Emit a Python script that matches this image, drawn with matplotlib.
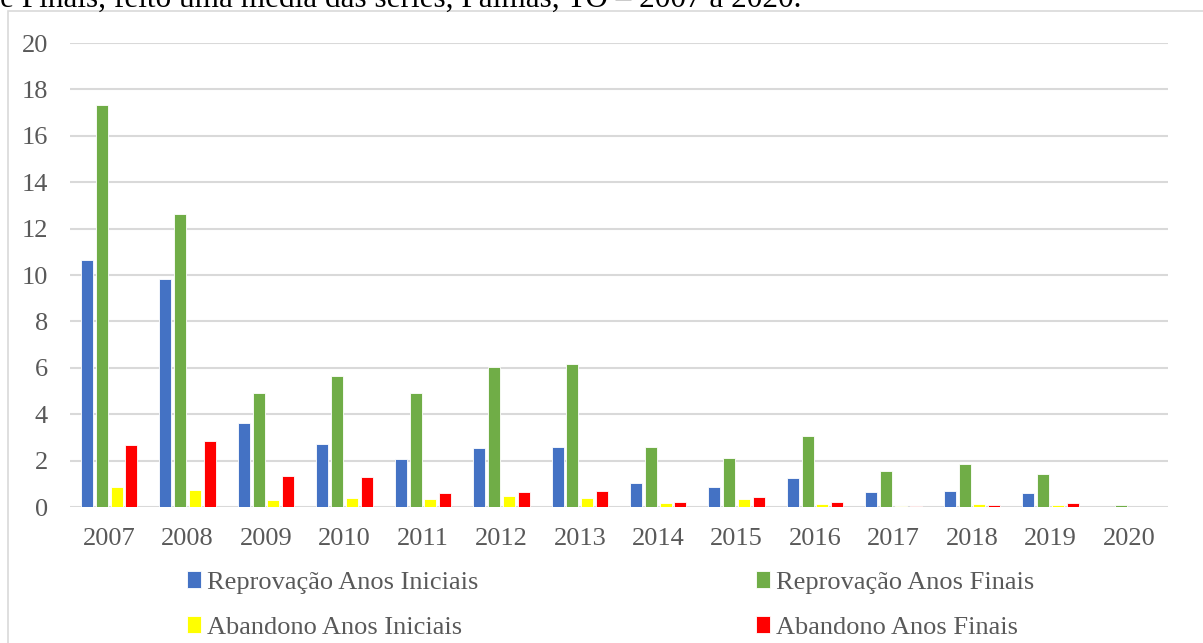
import matplotlib.pyplot as plt
import numpy as np
from matplotlib.patches import Rectangle

# --- data ---
anos = ['2007', '2008', '2009', '2010', '2011', '2012', '2013',
        '2014', '2015', '2016', '2017', '2018', '2019', '2020']
reprov_iniciais = [10.65, 9.83, 3.60, 2.70, 2.05, 2.54, 2.58, 1.03, 0.86, 1.24, 0.66, 0.70, 0.59, 0.0]
reprov_finais = [17.33, 12.63, 4.90, 5.65, 4.91, 6.05, 6.16, 2.60, 2.10, 3.06, 1.55, 1.84, 1.42, 0.10]
aband_iniciais = [0.87, 0.75, 0.30, 0.37, 0.34, 0.49, 0.37, 0.17, 0.33, 0.14, 0.05, 0.12, 0.08, 0.0]
aband_finais = [2.67, 2.84, 1.35, 1.31, 0.60, 0.66, 0.70, 0.22, 0.42, 0.22, 0.06, 0.10, 0.16, 0.0]

series = [
    ('Reprovação Anos Iniciais', reprov_iniciais, '#4472C4'),
    ('Reprovação Anos Finais', reprov_finais, '#70AD47'),
    ('Abandono Anos Iniciais', aband_iniciais, '#FFFF00'),
    ('Abandono Anos Finais', aband_finais, '#FF0000'),
]

plt.rcParams['font.family'] = ['Liberation Serif', 'DejaVu Serif']

W, H = 1203, 643
fig = plt.figure(figsize=(W / 100, H / 100), dpi=100)

# outer chart border (cropped screenshot)
fig.patches.append(Rectangle((8 / W, -0.1), 1.2, (H - 11) / H + 0.1,
                             transform=fig.transFigure, fill=False,
                             edgecolor='#d9d9d9', lw=1.2))

# clipped caption line at the very top (cut off in the reference too)
fig.text(0.0, 1 - 7 / H, 'e Finais, feito uma média das séries, Palmas, TO – 2007 a 2020.',
         fontsize=22.5, va='baseline', ha='left', color='black')

ax = fig.add_axes([70 / W, (H - 507) / H, (1168 - 70) / W, (507 - 43) / H])

x = np.arange(len(anos))
width = 0.153
step = 0.189
handles = []
for i, (nome, vals, cor) in enumerate(series):
    b = ax.bar(x + (i - 1.5) * step, vals, width, color=cor,
               edgecolor='white', linewidth=0.6, label=nome, zorder=3)
    handles.append(b)

ax.set_xlim(-0.5, len(anos) - 0.5)
ax.set_ylim(0, 20)
ax.set_yticks(range(0, 21, 2))
ax.set_xticks(x)
ax.set_xticklabels(anos)
ax.grid(axis='y', color='#d9d9d9', lw=1.5, zorder=0)
for s in ax.spines.values():
    s.set_visible(False)
ax.tick_params(length=0, labelsize=19, labelcolor='#595959')
ax.tick_params(axis='y', pad=16)
ax.tick_params(axis='x', pad=15)

order = [0, 2, 1, 3]
fig.legend([handles[i] for i in order], [series[i][0] for i in order],
           ncol=2, loc='center', bbox_to_anchor=(0.5075, 0.059),
           frameon=False, fontsize=19, labelcolor='#595959',
           handlelength=0.53, handleheight=0.6, handletextpad=0.23,
           columnspacing=10.5, labelspacing=0.84, borderaxespad=0)

fig.savefig('out.png', dpi=100)
